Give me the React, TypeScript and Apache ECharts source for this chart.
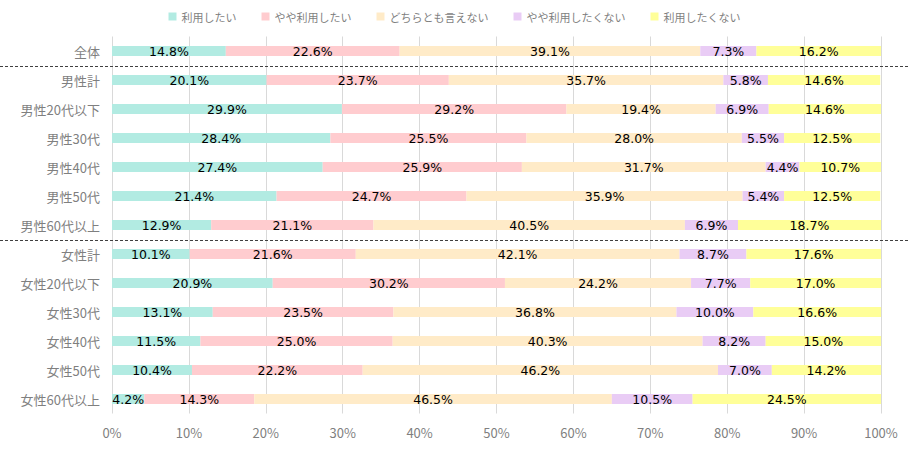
import React, { useEffect, useRef } from "react";
import * as echarts from "echarts";

const categories = [
  "全体", "男性計", "男性20代以下", "男性30代", "男性40代", "男性50代", "男性60代以上",
  "女性計", "女性20代以下", "女性30代", "女性40代", "女性50代", "女性60代以上",
];
const seriesNames = ["利用したい", "やや利用したい", "どちらとも言えない", "やや利用したくない", "利用したくない"];
const colors = ["#b2ebe2", "#ffcccf", "#ffebc8", "#e9ccf5", "#ffff99"];

const s1 = [14.8, 20.1, 29.9, 28.4, 27.4, 21.4, 12.9, 10.1, 20.9, 13.1, 11.5, 10.4, 4.2];
const s2 = [22.6, 23.7, 29.2, 25.5, 25.9, 24.7, 21.1, 21.6, 30.2, 23.5, 25.0, 22.2, 14.3];
const s3 = [39.1, 35.7, 19.4, 28.0, 31.7, 35.9, 40.5, 42.1, 24.2, 36.8, 40.3, 46.2, 46.5];
const s4 = [7.3, 5.8, 6.9, 5.5, 4.4, 5.4, 6.9, 8.7, 7.7, 10.0, 8.2, 7.0, 10.5];
const s5 = [16.2, 14.6, 14.6, 12.5, 10.7, 12.5, 18.7, 17.6, 17.0, 16.6, 15.0, 14.2, 24.5];
const seriesData = [s1, s2, s3, s4, s5];
const separatorsAfter = [0, 6];

const FONT = "'Noto Sans CJK JP', sans-serif";
const NUMFONT = "'DejaVu Sans', 'Noto Sans CJK JP', sans-serif";

export default function App() {
  const ref = useRef<HTMLDivElement>(null);
  useEffect(() => {
    if (!ref.current) return;
    const chart = echarts.init(ref.current, null, { renderer: "svg" });
    chart.setOption({
      animation: false,
      textStyle: { fontFamily: FONT },
      legend: {
        top: 6,
        left: "center",
        itemWidth: 8,
        itemHeight: 8,
        itemGap: 25,
        icon: "rect",
        textStyle: { color: "#7f7f7f", fontSize: 11, fontFamily: FONT },
        data: seriesNames,
      },
      grid: { left: 112, right: 28, top: 36.5, bottom: 37.5, containLabel: false },
      xAxis: {
        type: "value",
        min: 0,
        max: 100,
        interval: 10,
        axisLine: { show: false },
        axisTick: { show: false },
        axisLabel: { formatter: "{value}%", color: "#7f7f7f", fontSize: 13, margin: 12, fontFamily: FONT },
        splitLine: { lineStyle: { color: "#d9d9d9", width: 1 } },
      },
      yAxis: {
        type: "category",
        inverse: true,
        data: categories,
        axisLine: { show: false },
        axisTick: { show: false },
        axisLabel: { color: "#7f7f7f", fontSize: 13, margin: 12, fontFamily: FONT },
      },
      series: seriesNames.map((name, i) => ({
        name,
        type: "bar",
        stack: "total",
        barWidth: 10,
        data: seriesData[i],
        itemStyle: { color: colors[i] },
        label: {
          show: true,
          position: "inside",
          color: "#000",
          fontSize: 12.5,
          fontFamily: NUMFONT,
          formatter: (p: any) => p.value.toFixed(1) + "%",
        },
      })),
    });
    const lines = separatorsAfter.map((idx) => {
      const y0 = chart.convertToPixel({ yAxisIndex: 0 }, categories[idx]) as number;
      const y1 = chart.convertToPixel({ yAxisIndex: 0 }, categories[idx + 1]) as number;
      const y = Math.round((y0 + y1) / 2) + 0.5;
      return {
        type: "line",
        shape: { x1: 0, y1: y, x2: 909, y2: y },
        style: { stroke: "#404040", lineWidth: 1, lineDash: [3, 2] },
        silent: true,
      };
    });
    chart.setOption({ graphic: lines });
    return () => chart.dispose();
  }, []);
  return <div ref={ref} style={{ width: 909, height: 451, position: "absolute", left: 0, top: 0 }} />;
}
